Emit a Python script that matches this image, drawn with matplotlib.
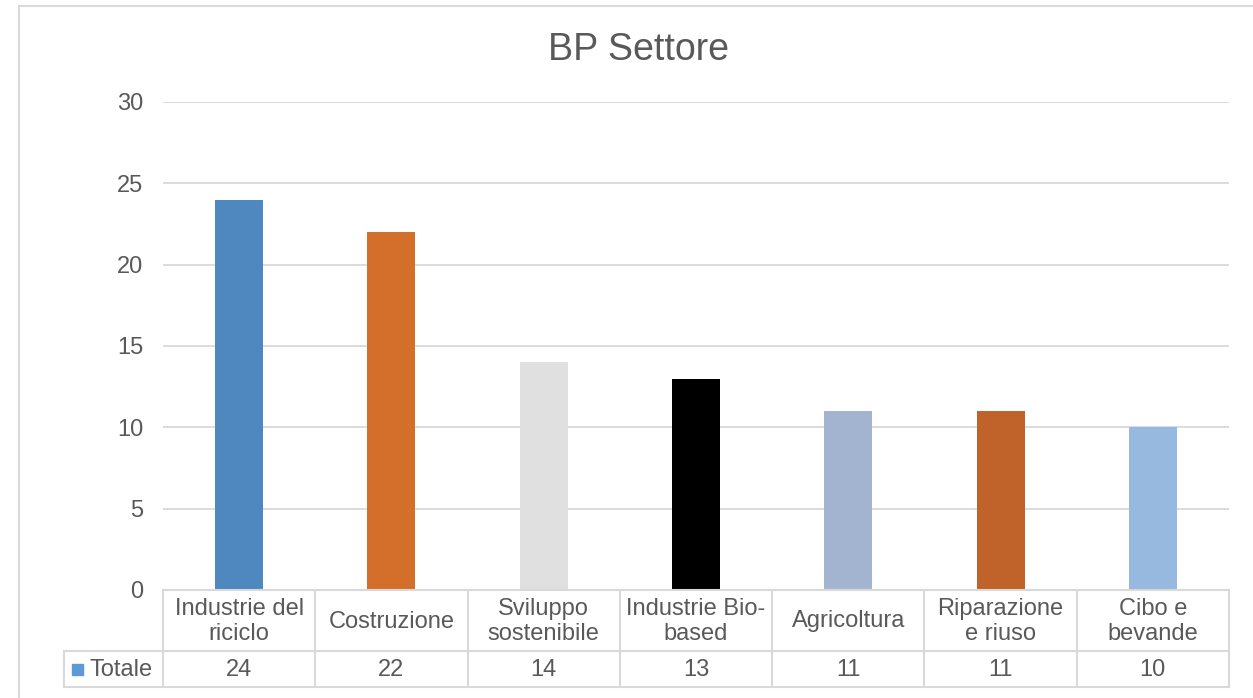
import matplotlib.pyplot as plt
from matplotlib.patches import Rectangle
from matplotlib.lines import Line2D

plt.rcParams['font.family'] = ['Liberation Sans', 'DejaVu Sans']

categories = ["Industrie del\nriciclo", "Costruzione", "Sviluppo\nsostenibile",
              "Industrie Bio-\nbased", "Agricoltura", "Riparazione\ne riuso", "Cibo e\nbevande"]
values = [24, 22, 14, 13, 11, 11, 10]
series_name = "Totale"
bar_colors = ["#4F88BE", "#D46F2B", "#E0E0E0", "#000000", "#A2B4CF", "#C0632A", "#97B8DF"]
yticks = [0, 5, 10, 15, 20, 25, 30]

W, H = 1253, 698
txt = "#595959"
grid = "#D9D9D9"
fs = 17

fig = plt.figure(figsize=(W / 100, H / 100), dpi=100)


def fx(px):
    return px / W


def fy(py):
    return 1 - py / H


# chart frame
fig.patches.append(Rectangle((fx(19), fy(720)), fx(1260) - fx(19), fy(6) - fy(720),
                             transform=fig.transFigure, fill=False, edgecolor=grid, lw=1.5))

left, right, top, bottom = 163, 1229, 102, 590
ax = fig.add_axes([fx(left), fy(bottom), fx(right) - fx(left), fy(top) - fy(bottom)])
n = len(categories)
x = list(range(n))
ax.bar(x, values, width=0.315, color=bar_colors, zorder=3)
ax.set_xlim(-0.5, n - 0.5)
ax.set_ylim(0, 30)
ax.set_yticks(yticks)
ax.set_yticklabels([str(t) for t in yticks], fontsize=fs, color=txt)
ax.tick_params(axis='y', length=0, pad=14)
ax.set_xticks([])
ax.grid(axis='y', color=grid, lw=1.3, zorder=0)
for s in ax.spines.values():
    s.set_visible(False)

fig.suptitle("BP Settore", x=fx(639), y=fy(50), va='center', fontsize=27, color=txt)

# data table
col_w = (right - left) / n
row1_top, row1_bot, row2_bot = 590, 651, 687
tbl_left = 64
lines = [
    ((left, right), (row1_top, row1_top)),
    ((tbl_left, right), (row1_bot, row1_bot)),
    ((tbl_left, right), (row2_bot, row2_bot)),
    ((tbl_left, tbl_left), (row1_bot, row2_bot)),
]
for i in range(n + 1):
    xx = left + i * col_w
    lines.append(((xx, xx), (row1_top, row2_bot)))
for (xs, ys) in lines:
    fig.add_artist(Line2D([fx(xs[0]), fx(xs[1])], [fy(ys[0]), fy(ys[1])],
                          transform=fig.transFigure, color=grid, lw=1.5))

for i, (cat, v) in enumerate(zip(categories, values)):
    cx = left + (i + 0.5) * col_w
    fig.text(fx(cx), fy((row1_top + row1_bot) / 2 + 1), cat, ha='center', va='center',
             fontsize=fs, color=txt, linespacing=1.2)
    fig.text(fx(cx), fy((row1_bot + row2_bot) / 2 + 1), str(v), ha='center', va='center',
             fontsize=fs, color=txt)

fig.patches.append(Rectangle((fx(72), fy(675)), fx(11) - fx(0), fy(0) - fy(11),
                             transform=fig.transFigure, color="#5B9BD5"))
fig.text(fx(90), fy((row1_bot + row2_bot) / 2 + 1), series_name, ha='left', va='center',
         fontsize=fs, color=txt)

fig.savefig("out.png", dpi=100)
